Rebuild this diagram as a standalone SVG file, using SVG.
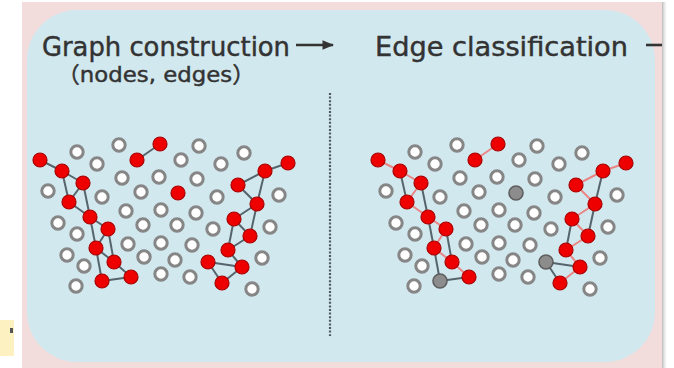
<svg xmlns="http://www.w3.org/2000/svg" width="674" height="368" viewBox="0 0 674 368">
  <style>
    .title { font-family: 'Comic Sans MS', 'DejaVu Sans', 'Noto Sans CJK SC', sans-serif; fill: #333333; stroke: #333333; stroke-width: 0.45; }
    .w { fill: #ffffff; stroke: #868686; stroke-width: 3; }
    .r { fill: #ee0000; stroke: #a80000; stroke-width: 1.2; }
    .g { fill: #8c8c8c; stroke: #5e5e5e; stroke-width: 1.6; }
    .e { stroke: #56646b; stroke-width: 2; fill: none; }
    .t { stroke: #ea8585; stroke-width: 2; fill: none; }
  </style>
  <defs>
    <clipPath id="frame">
      <rect x="22" y="2" width="640" height="366"/>
    </clipPath>
    <linearGradient id="edgeShade" x1="0" y1="0" x2="1" y2="0">
      <stop offset="0" stop-color="#b8b8b8"/>
      <stop offset="1" stop-color="#ffffff" stop-opacity="0"/>
    </linearGradient>
    <marker id="head" viewBox="0 0 10 10" refX="9" refY="5" markerWidth="4.5" markerHeight="4.5" orient="auto" markerUnits="strokeWidth">
      <path d="M0,1 L10,5 L0,9 Z" fill="#333333"/>
    </marker>
  </defs>

  <!-- page -->
  <rect width="674" height="368" fill="#ffffff"/>
  <rect x="0" y="320" width="14" height="36" fill="#fdf1c2"/>
  <rect x="10" y="328" width="3" height="5" fill="#555"/>
  <rect x="662" y="2" width="6" height="366" fill="url(#edgeShade)"/>

  <g clip-path="url(#frame)">
    <rect x="22" y="2" width="640" height="366" fill="#f3dcdc"/>
    <rect x="27" y="10" width="628" height="352" rx="50" ry="50" fill="#d2e8ef"/>

    <!-- stage headings -->
    <text class="title" x="42" y="56" font-size="26" textLength="248" lengthAdjust="spacingAndGlyphs">Graph construction</text>
    <text class="title" x="57" y="82" font-size="22" textLength="198" lengthAdjust="spacingAndGlyphs">（nodes, edges）</text>
    <text class="title" x="375" y="56" font-size="26" textLength="253" lengthAdjust="spacingAndGlyphs">Edge classification</text>

    <!-- connectors -->
    <g id="connectors">
      <line x1="296" y1="45" x2="333" y2="45" stroke="#333333" stroke-width="2.6" marker-end="url(#head)"/>
      <line x1="646" y1="45" x2="670" y2="45" stroke="#333333" stroke-width="2.6"/>
      <line x1="330" y1="93" x2="330" y2="336" stroke="#4f5a60" stroke-width="2.2" stroke-dasharray="2 1.6"/>

      <g id="edges-construction">
        <line class="e" x1="40" y1="160" x2="62" y2="171"/>
        <line class="e" x1="62" y1="171" x2="83" y2="183"/>
        <line class="e" x1="62" y1="171" x2="69" y2="202"/>
        <line class="e" x1="83" y1="183" x2="69" y2="202"/>
        <line class="e" x1="83" y1="183" x2="90" y2="217"/>
        <line class="e" x1="69" y1="202" x2="90" y2="217"/>
        <line class="e" x1="90" y1="217" x2="108" y2="229"/>
        <line class="e" x1="90" y1="217" x2="96" y2="248"/>
        <line class="e" x1="108" y1="229" x2="96" y2="248"/>
        <line class="e" x1="108" y1="229" x2="114" y2="262"/>
        <line class="e" x1="96" y1="248" x2="114" y2="262"/>
        <line class="e" x1="96" y1="248" x2="102" y2="281"/>
        <line class="e" x1="114" y1="262" x2="131" y2="277"/>
        <line class="e" x1="102" y1="281" x2="131" y2="277"/>
        <line class="e" x1="137" y1="160" x2="160" y2="144"/>
        <line class="e" x1="288" y1="163" x2="265" y2="171"/>
        <line class="e" x1="265" y1="171" x2="238" y2="185"/>
        <line class="e" x1="265" y1="171" x2="257" y2="204"/>
        <line class="e" x1="238" y1="185" x2="257" y2="204"/>
        <line class="e" x1="257" y1="204" x2="234" y2="219"/>
        <line class="e" x1="257" y1="204" x2="250" y2="236"/>
        <line class="e" x1="234" y1="219" x2="250" y2="236"/>
        <line class="e" x1="234" y1="219" x2="228" y2="250"/>
        <line class="e" x1="250" y1="236" x2="228" y2="250"/>
        <line class="e" x1="228" y1="250" x2="242" y2="267"/>
        <line class="e" x1="208" y1="262" x2="242" y2="267"/>
        <line class="e" x1="208" y1="262" x2="222" y2="283"/>
        <line class="e" x1="242" y1="267" x2="222" y2="283"/>
      </g>

      <g id="edges-classification" transform="translate(338 0)">
        <line class="e" x1="62" y1="171" x2="69" y2="202"/>
        <line class="e" x1="83" y1="183" x2="90" y2="217"/>
        <line class="e" x1="90" y1="217" x2="96" y2="248"/>
        <line class="e" x1="108" y1="229" x2="114" y2="262"/>
        <line class="e" x1="96" y1="248" x2="102" y2="281"/>
        <line class="e" x1="102" y1="281" x2="131" y2="277"/>
        <line class="e" x1="265" y1="171" x2="257" y2="204"/>
        <line class="e" x1="257" y1="204" x2="250" y2="236"/>
        <line class="e" x1="234" y1="219" x2="228" y2="250"/>
        <line class="e" x1="208" y1="262" x2="242" y2="267"/>
        <line class="e" x1="208" y1="262" x2="222" y2="283"/>
        <line class="t" x1="40" y1="160" x2="62" y2="171"/>
        <line class="t" x1="62" y1="171" x2="83" y2="183"/>
        <line class="t" x1="83" y1="183" x2="69" y2="202"/>
        <line class="t" x1="69" y1="202" x2="90" y2="217"/>
        <line class="t" x1="90" y1="217" x2="108" y2="229"/>
        <line class="t" x1="108" y1="229" x2="96" y2="248"/>
        <line class="t" x1="96" y1="248" x2="114" y2="262"/>
        <line class="t" x1="114" y1="262" x2="131" y2="277"/>
        <line class="t" x1="137" y1="160" x2="160" y2="144"/>
        <line class="t" x1="288" y1="163" x2="265" y2="171"/>
        <line class="t" x1="265" y1="171" x2="238" y2="185"/>
        <line class="t" x1="238" y1="185" x2="257" y2="204"/>
        <line class="t" x1="257" y1="204" x2="234" y2="219"/>
        <line class="t" x1="234" y1="219" x2="250" y2="236"/>
        <line class="t" x1="250" y1="236" x2="228" y2="250"/>
        <line class="t" x1="228" y1="250" x2="242" y2="267"/>
        <line class="t" x1="242" y1="267" x2="222" y2="283"/>
      </g>
    </g>

    <!-- hits of the construction stage -->
    <g id="panel-construction">
      <g id="c-w1"><circle class="w" cx="77" cy="152" r="6.2"/></g>
      <g id="c-w2"><circle class="w" cx="97" cy="164" r="6.2"/></g>
      <g id="c-w3"><circle class="w" cx="119" cy="145" r="6.2"/></g>
      <g id="c-w4"><circle class="w" cx="48" cy="191" r="6.2"/></g>
      <g id="c-w5"><circle class="w" cx="102" cy="197" r="6.2"/></g>
      <g id="c-w6"><circle class="w" cx="122" cy="178" r="6.2"/></g>
      <g id="c-w7"><circle class="w" cx="141" cy="192" r="6.2"/></g>
      <g id="c-w8"><circle class="w" cx="159" cy="177" r="6.2"/></g>
      <g id="c-w9"><circle class="w" cx="181" cy="160" r="6.2"/></g>
      <g id="c-w10"><circle class="w" cx="199" cy="146" r="6.2"/></g>
      <g id="c-w11"><circle class="w" cx="221" cy="164" r="6.2"/></g>
      <g id="c-w12"><circle class="w" cx="244" cy="153" r="6.2"/></g>
      <g id="c-w13"><circle class="w" cx="197" cy="179" r="6.2"/></g>
      <g id="c-w14"><circle class="w" cx="217" cy="197" r="6.2"/></g>
      <g id="c-w15"><circle class="w" cx="279" cy="195" r="6.2"/></g>
      <g id="c-w16"><circle class="w" cx="58" cy="223" r="6.2"/></g>
      <g id="c-w17"><circle class="w" cx="77" cy="234" r="6.2"/></g>
      <g id="c-w18"><circle class="w" cx="126" cy="211" r="6.2"/></g>
      <g id="c-w19"><circle class="w" cx="161" cy="210" r="6.2"/></g>
      <g id="c-w20"><circle class="w" cx="196" cy="213" r="6.2"/></g>
      <g id="c-w21"><circle class="w" cx="143" cy="225" r="6.2"/></g>
      <g id="c-w22"><circle class="w" cx="177" cy="225" r="6.2"/></g>
      <g id="c-w23"><circle class="w" cx="213" cy="229" r="6.2"/></g>
      <g id="c-w24"><circle class="w" cx="270" cy="227" r="6.2"/></g>
      <g id="c-w25"><circle class="w" cx="67" cy="255" r="6.2"/></g>
      <g id="c-w26"><circle class="w" cx="84" cy="266" r="6.2"/></g>
      <g id="c-w27"><circle class="w" cx="128" cy="244" r="6.2"/></g>
      <g id="c-w28"><circle class="w" cx="161" cy="243" r="6.2"/></g>
      <g id="c-w29"><circle class="w" cx="192" cy="245" r="6.2"/></g>
      <g id="c-w30"><circle class="w" cx="144" cy="257" r="6.2"/></g>
      <g id="c-w31"><circle class="w" cx="175" cy="260" r="6.2"/></g>
      <g id="c-w32"><circle class="w" cx="262" cy="258" r="6.2"/></g>
      <g id="c-w33"><circle class="w" cx="76" cy="286" r="6.2"/></g>
      <g id="c-w34"><circle class="w" cx="161" cy="274" r="6.2"/></g>
      <g id="c-w35"><circle class="w" cx="190" cy="277" r="6.2"/></g>
      <g id="c-w36"><circle class="w" cx="252" cy="289" r="6.2"/></g>
      <g id="c-r1"><circle class="r" cx="40" cy="160" r="7"/></g>
      <g id="c-r2"><circle class="r" cx="62" cy="171" r="7"/></g>
      <g id="c-r3"><circle class="r" cx="83" cy="183" r="7"/></g>
      <g id="c-r4"><circle class="r" cx="69" cy="202" r="7"/></g>
      <g id="c-r5"><circle class="r" cx="90" cy="217" r="7"/></g>
      <g id="c-r6"><circle class="r" cx="108" cy="229" r="7"/></g>
      <g id="c-r7"><circle class="r" cx="96" cy="248" r="7"/></g>
      <g id="c-r8"><circle class="r" cx="114" cy="262" r="7"/></g>
      <g id="c-r9"><circle class="r" cx="102" cy="281" r="7"/></g>
      <g id="c-r10"><circle class="r" cx="131" cy="277" r="7"/></g>
      <g id="c-r11"><circle class="r" cx="137" cy="160" r="7"/></g>
      <g id="c-r12"><circle class="r" cx="160" cy="144" r="7"/></g>
      <g id="c-r13"><circle class="r" cx="178" cy="193" r="7"/></g>
      <g id="c-r14"><circle class="r" cx="288" cy="163" r="7"/></g>
      <g id="c-r15"><circle class="r" cx="265" cy="171" r="7"/></g>
      <g id="c-r16"><circle class="r" cx="238" cy="185" r="7"/></g>
      <g id="c-r17"><circle class="r" cx="257" cy="204" r="7"/></g>
      <g id="c-r18"><circle class="r" cx="234" cy="219" r="7"/></g>
      <g id="c-r19"><circle class="r" cx="250" cy="236" r="7"/></g>
      <g id="c-r20"><circle class="r" cx="228" cy="250" r="7"/></g>
      <g id="c-r21"><circle class="r" cx="208" cy="262" r="7"/></g>
      <g id="c-r22"><circle class="r" cx="242" cy="267" r="7"/></g>
      <g id="c-r23"><circle class="r" cx="222" cy="283" r="7"/></g>
    </g>

    <!-- hits of the classification stage, same layout shifted right -->
    <g id="panel-classification" transform="translate(338 0)">
      <g id="k-w1"><circle class="w" cx="77" cy="152" r="6.2"/></g>
      <g id="k-w2"><circle class="w" cx="97" cy="164" r="6.2"/></g>
      <g id="k-w3"><circle class="w" cx="119" cy="145" r="6.2"/></g>
      <g id="k-w4"><circle class="w" cx="48" cy="191" r="6.2"/></g>
      <g id="k-w5"><circle class="w" cx="102" cy="197" r="6.2"/></g>
      <g id="k-w6"><circle class="w" cx="122" cy="178" r="6.2"/></g>
      <g id="k-w7"><circle class="w" cx="141" cy="192" r="6.2"/></g>
      <g id="k-w8"><circle class="w" cx="159" cy="177" r="6.2"/></g>
      <g id="k-w9"><circle class="w" cx="181" cy="160" r="6.2"/></g>
      <g id="k-w10"><circle class="w" cx="199" cy="146" r="6.2"/></g>
      <g id="k-w11"><circle class="w" cx="221" cy="164" r="6.2"/></g>
      <g id="k-w12"><circle class="w" cx="244" cy="153" r="6.2"/></g>
      <g id="k-w13"><circle class="w" cx="197" cy="179" r="6.2"/></g>
      <g id="k-w14"><circle class="w" cx="217" cy="197" r="6.2"/></g>
      <g id="k-w15"><circle class="w" cx="279" cy="195" r="6.2"/></g>
      <g id="k-w16"><circle class="w" cx="58" cy="223" r="6.2"/></g>
      <g id="k-w17"><circle class="w" cx="77" cy="234" r="6.2"/></g>
      <g id="k-w18"><circle class="w" cx="126" cy="211" r="6.2"/></g>
      <g id="k-w19"><circle class="w" cx="161" cy="210" r="6.2"/></g>
      <g id="k-w20"><circle class="w" cx="196" cy="213" r="6.2"/></g>
      <g id="k-w21"><circle class="w" cx="143" cy="225" r="6.2"/></g>
      <g id="k-w22"><circle class="w" cx="177" cy="225" r="6.2"/></g>
      <g id="k-w23"><circle class="w" cx="213" cy="229" r="6.2"/></g>
      <g id="k-w24"><circle class="w" cx="270" cy="227" r="6.2"/></g>
      <g id="k-w25"><circle class="w" cx="67" cy="255" r="6.2"/></g>
      <g id="k-w26"><circle class="w" cx="84" cy="266" r="6.2"/></g>
      <g id="k-w27"><circle class="w" cx="128" cy="244" r="6.2"/></g>
      <g id="k-w28"><circle class="w" cx="161" cy="243" r="6.2"/></g>
      <g id="k-w29"><circle class="w" cx="192" cy="245" r="6.2"/></g>
      <g id="k-w30"><circle class="w" cx="144" cy="257" r="6.2"/></g>
      <g id="k-w31"><circle class="w" cx="175" cy="260" r="6.2"/></g>
      <g id="k-w32"><circle class="w" cx="262" cy="258" r="6.2"/></g>
      <g id="k-w33"><circle class="w" cx="76" cy="286" r="6.2"/></g>
      <g id="k-w34"><circle class="w" cx="161" cy="274" r="6.2"/></g>
      <g id="k-w35"><circle class="w" cx="190" cy="277" r="6.2"/></g>
      <g id="k-w36"><circle class="w" cx="252" cy="289" r="6.2"/></g>
      <g id="k-r1"><circle class="r" cx="40" cy="160" r="7"/></g>
      <g id="k-r2"><circle class="r" cx="62" cy="171" r="7"/></g>
      <g id="k-r3"><circle class="r" cx="83" cy="183" r="7"/></g>
      <g id="k-r4"><circle class="r" cx="69" cy="202" r="7"/></g>
      <g id="k-r5"><circle class="r" cx="90" cy="217" r="7"/></g>
      <g id="k-r6"><circle class="r" cx="108" cy="229" r="7"/></g>
      <g id="k-r7"><circle class="r" cx="96" cy="248" r="7"/></g>
      <g id="k-r8"><circle class="r" cx="114" cy="262" r="7"/></g>
      <g id="k-g9"><circle class="g" cx="102" cy="281" r="7"/></g>
      <g id="k-r10"><circle class="r" cx="131" cy="277" r="7"/></g>
      <g id="k-r11"><circle class="r" cx="137" cy="160" r="7"/></g>
      <g id="k-r12"><circle class="r" cx="160" cy="144" r="7"/></g>
      <g id="k-g13"><circle class="g" cx="178" cy="193" r="7"/></g>
      <g id="k-r14"><circle class="r" cx="288" cy="163" r="7"/></g>
      <g id="k-r15"><circle class="r" cx="265" cy="171" r="7"/></g>
      <g id="k-r16"><circle class="r" cx="238" cy="185" r="7"/></g>
      <g id="k-r17"><circle class="r" cx="257" cy="204" r="7"/></g>
      <g id="k-r18"><circle class="r" cx="234" cy="219" r="7"/></g>
      <g id="k-r19"><circle class="r" cx="250" cy="236" r="7"/></g>
      <g id="k-r20"><circle class="r" cx="228" cy="250" r="7"/></g>
      <g id="k-g21"><circle class="g" cx="208" cy="262" r="7"/></g>
      <g id="k-r22"><circle class="r" cx="242" cy="267" r="7"/></g>
      <g id="k-r23"><circle class="r" cx="222" cy="283" r="7"/></g>
    </g>
  </g>
</svg>
